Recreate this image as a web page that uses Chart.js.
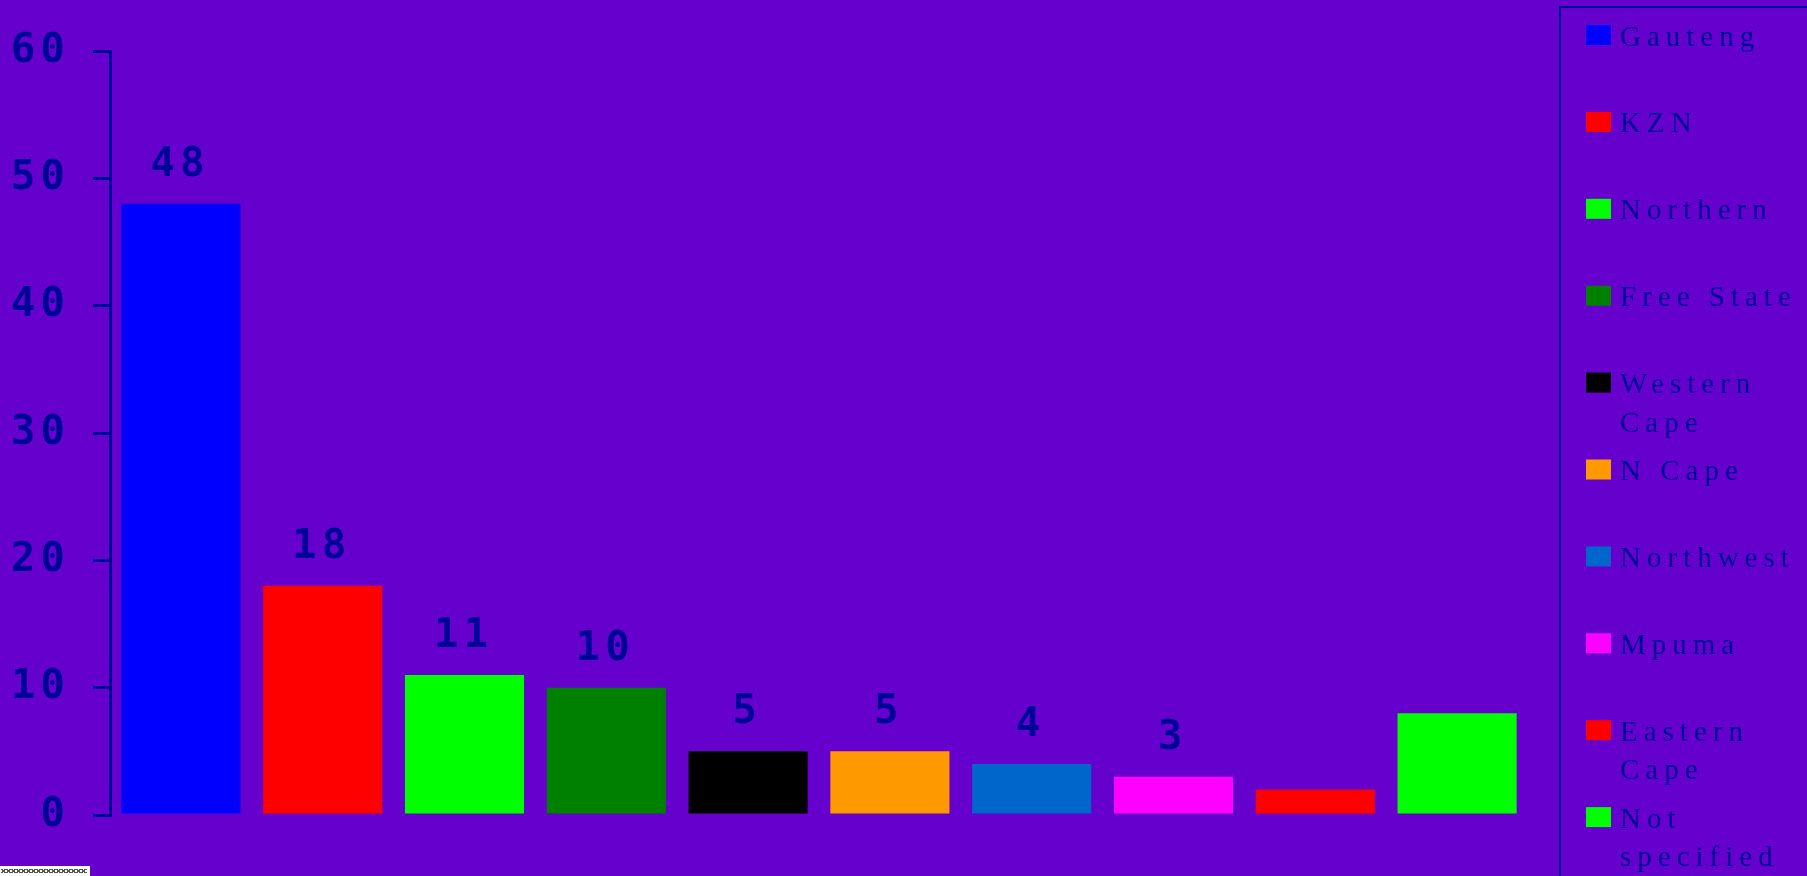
<!DOCTYPE html>
<html><head><meta charset="utf-8">
<script src="https://cdn.jsdelivr.net/npm/chart.js@4/dist/chart.umd.min.js"></script>
<style>
html,body{margin:0;padding:0;background:#6600CC;overflow:hidden}
#wrap{position:relative;width:1807px;height:876px}
canvas{display:block}
#squig{position:absolute;left:0;top:866px;width:90px;height:10px;background:#fff}
#squig div{position:absolute;left:1px;top:3px;width:86px;height:4px;
 background-image:linear-gradient(135deg,transparent 40%,#555 40%,#555 60%,transparent 60%),linear-gradient(45deg,transparent 40%,#555 40%,#555 60%,transparent 60%);
 background-size:5px 4px}
</style></head><body>
<div id="wrap"><canvas id="c" width="1807" height="876"></canvas><div id="squig"><div></div></div></div>
<script>
const categories = ['Gauteng','KZN','Northern','Free State','Western Cape','N Cape','Northwest','Mpuma','Eastern Cape','Not specified'];
const values = [48,18,11,10,5,5,4,3,2,8];
const valueLabels = ['48','18','11','10','5','5','4','3','',''];
const barColors = ['#0000FF','#FF0000','#00FF00','#008000','#000000','#FF9900','#0066CC','#FF00FF','#FF0000','#00FF00'];
const yTicks = [0,10,20,30,40,50,60];

const NAVY = '#000099';
const BG = '#6600CC';
const DIGIT_FONT = 'bold 41px "DejaVu Sans Mono"';

const bgPlugin = {
  id:'bg',
  beforeDraw(chart){
    const ctx = chart.ctx;
    ctx.fillStyle = BG;
    ctx.fillRect(0,0,chart.width,chart.height);
    ctx.letterSpacing = '5px';
  }
};

const valueLabelPlugin = {
  id:'valueLabels',
  afterDatasetsDraw(chart){
    const ctx = chart.ctx;
    const meta = chart.getDatasetMeta(0);
    ctx.save();
    ctx.font = DIGIT_FONT;
    ctx.letterSpacing = '5px';
    ctx.fillStyle = NAVY;
    ctx.textAlign = 'center';
    ctx.textBaseline = 'alphabetic';
    meta.data.forEach((bar,i)=>{
      const t = valueLabels[i];
      if(!t) return;
      ctx.fillText(t, bar.x - 1, bar.y - 28);
    });
    ctx.restore();
  }
};

const sideLegendPlugin = {
  id:'sideLegend',
  afterDraw(chart){
    const ctx = chart.ctx;
    const left = chart.chartArea.right + 32;
    ctx.save();
    ctx.strokeStyle = NAVY;
    ctx.lineWidth = 2;
    ctx.beginPath();
    ctx.moveTo(left, chart.height);
    ctx.lineTo(left, 7);
    ctx.lineTo(chart.width, 7);
    ctx.stroke();
    ctx.font = '29px "Liberation Serif"';
    ctx.letterSpacing = '6px';
    ctx.textBaseline = 'alphabetic';
    ctx.textAlign = 'left';
    const boxX = left + 26, textX = left + 60;
    const maxW = chart.width - textX - 2;
    const step = 86.9;
    chart.data.labels.forEach((lab,i)=>{
      const y = 25 + i*step;
      ctx.fillStyle = chart.data.datasets[0].backgroundColor[i];
      ctx.fillRect(boxX, y, 25, 20);
      const words = lab.split(' ');
      const lines = [];
      let cur = '';
      words.forEach(w=>{
        const test = cur ? cur + ' ' + w : w;
        if(cur && ctx.measureText(test).width > maxW){ lines.push(cur); cur = w; }
        else cur = test;
      });
      if(cur) lines.push(cur);
      ctx.fillStyle = NAVY;
      lines.forEach((ln,k)=>ctx.fillText(ln, textX, y + 20.5 + k*38.5));
    });
    ctx.restore();
  }
};

new Chart(document.getElementById('c'), {
  type:'bar',
  data:{
    labels: categories,
    datasets:[{
      data: values,
      backgroundColor: barColors,
      borderWidth: 0,
      barPercentage: 0.84,
      categoryPercentage: 1.0
    }]
  },
  options:{
    responsive:false,
    animation:false,
    devicePixelRatio:1,
    layout:{padding:{left:0,right:279,top:51,bottom:61}},
    plugins:{legend:{display:false},tooltip:{enabled:false},title:{display:false}},
    scales:{
      x:{display:false},
      y:{
        min:0,max:60,
        afterFit(scale){ scale.width = 110; },
        afterBuildTicks(scale){ scale.ticks = yTicks.map(v=>({value:v})); },
        grid:{drawOnChartArea:false,drawTicks:true,tickLength:17,color:NAVY,lineWidth:3},
        border:{display:true,color:NAVY,width:3},
        ticks:{color:NAVY,padding:23,font:{family:'"DejaVu Sans Mono"',size:41,weight:'bold'}}
      }
    }
  },
  plugins:[bgPlugin,valueLabelPlugin,sideLegendPlugin]
});
</script>
</body></html>
